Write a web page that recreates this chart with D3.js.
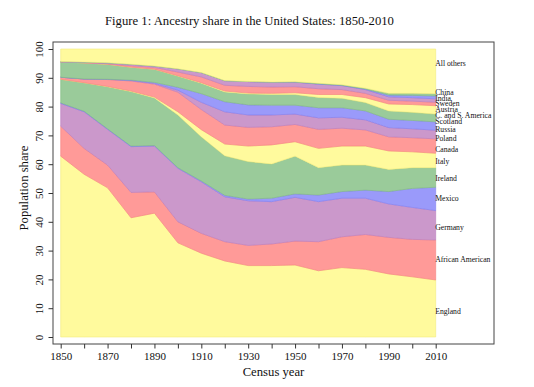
<!DOCTYPE html>
<html>
<head>
<meta charset="utf-8">
<script src="https://cdn.jsdelivr.net/npm/d3@7"></script>
<style>
body { margin: 0; background: #fff; }
text { font-family: "Liberation Serif", "Times New Roman", serif; fill: #111; }
</style>
</head>
<body>
<div id="chart"></div>
<script>
// census years
var years = [1850, 1860, 1870, 1880, 1890, 1900, 1910, 1920, 1930, 1940, 1950, 1960, 1970, 1980, 1990, 2000, 2010];

// population share per ancestry (percent), bottom layer first
var england         = [62.8, 56.5, 51.8, 41.4, 43.0, 32.7, 29.1, 26.4, 24.8, 24.8, 25.0, 23.0, 24.1, 23.5, 21.9, 20.9, 19.8];
var africanAmerican = [10.4, 9.0, 7.9, 8.8, 7.4, 7.3, 6.9, 6.7, 7.0, 7.5, 8.3, 10.1, 10.7, 12.1, 12.7, 13.0, 13.9];
var germany         = [7.9, 12.7, 12.4, 15.9, 15.9, 18.6, 17.9, 15.6, 15.5, 14.7, 15.2, 13.9, 13.4, 12.6, 11.6, 11.1, 10.2];
var mexico          = [0.2, 0.2, 0.2, 0.2, 0.2, 0.2, 0.3, 0.5, 0.6, 1.2, 1.2, 2.3, 2.3, 2.8, 4.3, 6.6, 8.1];
var ireland         = [8.2, 9.9, 14.6, 18.9, 16.5, 18.3, 15.3, 13.7, 13.0, 11.9, 13.1, 9.5, 9.2, 8.7, 7.7, 7.2, 6.8];
var italy           = [0, 0, 0.1, 0.2, 0.3, 1.1, 2.5, 4.1, 5.4, 6.6, 5.0, 6.7, 6.6, 6.6, 6.4, 5.5, 5.0];
var canada          = [0.7, 1.3, 2.4, 3.5, 4.5, 6.8, 7.0, 6.6, 6.5, 6.3, 6.0, 6.6, 6.2, 5.6, 4.9, 4.9, 5.0];
var poland          = [0, 0, 0.1, 0.2, 0.3, 0.7, 2.5, 4.6, 4.3, 4.1, 3.6, 4.0, 3.8, 3.5, 3.2, 3.1, 3.0];
var russia          = [0, 0, 0, 0.1, 0.3, 1.0, 3.0, 3.5, 3.5, 3.4, 3.1, 3.5, 3.3, 3.1, 2.9, 2.9, 2.9];
var scotland        = [5.3, 5.6, 5.2, 4.5, 4.6, 3.9, 3.6, 3.4, 3.8, 3.7, 3.7, 3.6, 3.3, 2.9, 2.9, 2.8, 2.7];
var csAmerica       = [0, 0, 0, 0, 0, 0.1, 0.2, 0.3, 0.3, 0.4, 0.6, 1.0, 1.3, 1.7, 2.4, 2.7, 2.9];
var austria         = [0, 0.05, 0.2, 0.5, 0.6, 1.3, 2.0, 2.0, 2.3, 2.2, 2.1, 2.0, 1.7, 1.5, 1.3, 1.2, 1.2];
var sweden          = [0.1, 0.2, 0.3, 0.5, 0.5, 1.1, 1.5, 1.6, 1.7, 1.7, 1.6, 1.6, 1.4, 1.3, 1.2, 1.2, 1.2];
var india           = [0, 0, 0, 0, 0, 0, 0, 0, 0, 0, 0.05, 0.1, 0.1, 0.2, 0.6, 0.8, 1.0];
var china           = [0.02, 0.02, 0.02, 0.02, 0.02, 0.02, 0.02, 0.02, 0.05, 0.05, 0.1, 0.2, 0.2, 0.3, 0.6, 0.7, 0.8];
var allOthers       = [4.38, 4.53, 4.78, 5.28, 5.88, 6.88, 8.18, 10.98, 11.25, 11.45, 11.35, 11.9, 12.4, 13.6, 15.4, 15.4, 15.5];

var groups = ["England", "African American", "Germany", "Mexico", "Ireland", "Italy", "Canada", "Poland",
	"Russia", "Scotland", "C. and S. America", "Austria", "Sweden", "India", "China", "All others"];
var series = [england, africanAmerican, germany, mexico, ireland, italy, canada, poland,
	russia, scotland, csAmerica, austria, sweden, india, china, allOthers];

// where the right-hand labels sit, in percent
var labelPos = [9, 27, 38, 48, 55, 61, 65, 69, 72, 75, 77, 79, 81, 83, 85, 95];

var yTicks = [0, 10, 20, 30, 40, 50, 60, 70, 80, 90, 100];
var xTickLabels = [1850, 1870, 1890, 1910, 1930, 1950, 1970, 1990, 2010];

// yellow, red, purple, blue, green repeating
var fills   = ["#fffa9d", "#ff9a98", "#cb98cb", "#9a9afa", "#9acb9a"];
var strokes = ["#f4ec7c", "#f58280", "#b87cc0", "#7f7ff2", "#80b980"];

var width = 534, height = 387;
var frame = {left: 53, top: 42, right: 494, bottom: 344};

var svg = d3.select("#chart").append("svg")
	.attr("width", width)
	.attr("height", height);

var x = d3.scaleLinear().domain([1850, 2010]).range([60.7, 435.7]);
var y = d3.scaleLinear().domain([0, 100]).range([337, 49]);

var table = years.map(function(yr, i) {
	var row = {year: yr};
	groups.forEach(function(g, k) { row[g] = series[k][i]; });
	return row;
});

var stacked = d3.stack().keys(groups)(table);

var area = d3.area()
	.x(function(d) { return x(d.data.year); })
	.y0(function(d) { return y(d[0]); })
	.y1(function(d) { return y(d[1]); });

svg.append("g").selectAll("path")
	.data(stacked)
	.enter().append("path")
	.attr("d", area)
	.attr("fill", function(d, i) { return fills[i % 5]; })
	.attr("stroke", function(d, i) { return strokes[i % 5]; })
	.attr("stroke-width", 0.6)
	.attr("stroke-linejoin", "round");

// plot frame
svg.append("rect")
	.attr("x", frame.left)
	.attr("y", frame.top)
	.attr("width", frame.right - frame.left)
	.attr("height", frame.bottom - frame.top)
	.attr("fill", "none")
	.attr("stroke", "#444")
	.attr("stroke-width", 1);

// y axis
var yAxis = svg.append("g")
	.attr("transform", "translate(" + frame.left + ",0)")
	.call(d3.axisLeft(y).tickValues(yTicks).tickSize(4.5).tickFormat(d3.format("d")));
yAxis.select(".domain").remove();
yAxis.selectAll("line").attr("stroke", "#333");
yAxis.selectAll("text")
	.attr("x", null)
	.attr("dy", "0.35em")
	.attr("transform", "translate(-13.5,0) rotate(-90)")
	.attr("text-anchor", "middle")
	.style("font-family", "Liberation Serif")
	.style("font-size", "11px")
	.attr("fill", "#111");

// x axis, every census gets a tick, every second one a label
var xAxis = svg.append("g")
	.attr("transform", "translate(0," + frame.bottom + ")")
	.call(d3.axisBottom(x).tickValues(years).tickSize(4.5)
		.tickFormat(function(d) { return xTickLabels.indexOf(d) >= 0 ? d : ""; }));
xAxis.select(".domain").remove();
xAxis.selectAll("line").attr("stroke", "#333");
xAxis.selectAll("text")
	.attr("y", 8)
	.attr("dy", "0.71em")
	.style("font-family", "Liberation Serif")
	.style("font-size", "11px")
	.attr("fill", "#111");

// labels at the right end
svg.append("g").selectAll("text")
	.data(groups)
	.enter().append("text")
	.attr("x", x(2010) - 0.5)
	.attr("y", function(d, i) { return y(labelPos[i]); })
	.attr("dy", "0.33em")
	.style("font-size", "7.7px")
	.text(function(d) { return d; });

// titles
svg.append("text")
	.attr("x", 249.5)
	.attr("y", 25)
	.attr("text-anchor", "middle")
	.style("font-size", "12.7px")
	.text("Figure 1: Ancestry share in the United States: 1850-2010");

svg.append("text")
	.attr("x", (frame.left + frame.right) / 2)
	.attr("y", 376)
	.attr("text-anchor", "middle")
	.style("font-size", "12.7px")
	.text("Census year");

svg.append("text")
	.attr("transform", "translate(24,188) rotate(-90)")
	.attr("dy", "0.35em")
	.attr("text-anchor", "middle")
	.style("font-size", "12.7px")
	.text("Population share");
</script>
</body>
</html>
